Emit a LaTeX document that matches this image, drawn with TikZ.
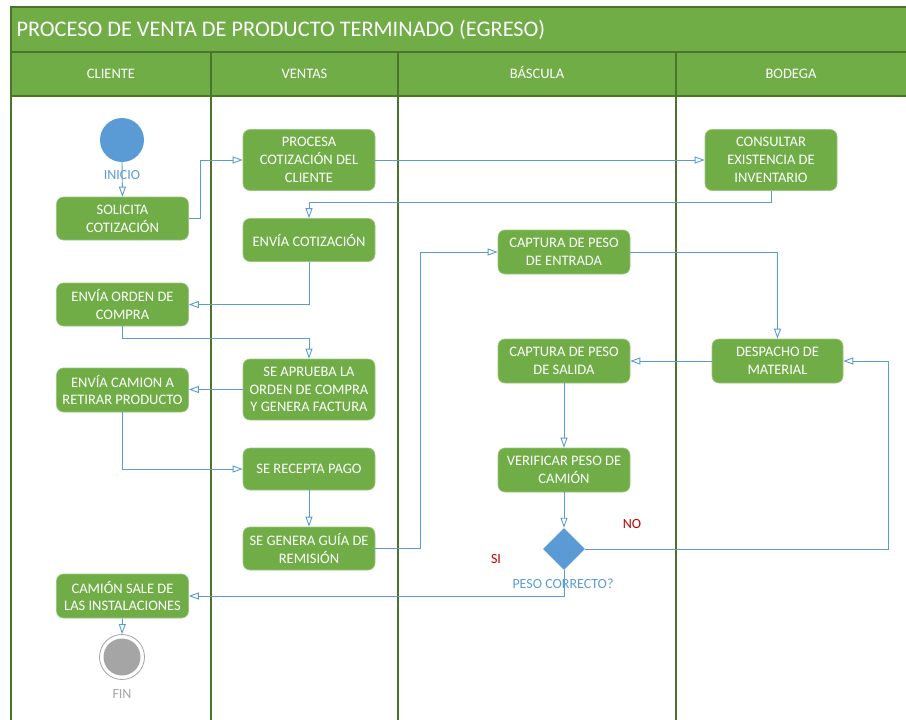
\documentclass[tikz,border=0pt]{standalone}
\usepackage{fontspec}
\setmainfont{Carlito}
\usetikzlibrary{arrows.meta,shapes.geometric}

\definecolor{verde}{HTML}{70AD47}
\definecolor{verdeosc}{HTML}{4A7429}
\definecolor{azul}{HTML}{5B9BD5}
\definecolor{gris}{HTML}{A5A5A5}
\definecolor{rojo}{HTML}{C00000}

\tikzset{
  tarea/.style={rectangle, rounded corners=7pt, fill=verde, draw=verde!70!white, line width=0.6pt,
    text=white, align=center, minimum width=132pt, inner sep=2pt,
    font=\fontsize{14.5}{17.7}\selectfont},
  flujo/.style={draw=azul, line width=0.9pt, -{Triangle[open, length=10pt, width=7pt]}},
  carril/.style={draw=verdeosc, line width=1.1pt},
  encab/.style={text=white, text height=10pt, text depth=3pt, font=\fontsize{14.5}{17}\selectfont},
  rotulo/.style={font=\fontsize{14}{16}\selectfont}
}

\begin{document}
\begin{tikzpicture}[x=1pt, y=-1pt]
\useasboundingbox (0,0) rectangle (906,720);

\fill[verde] (11,7) rectangle (906,96);
\draw[carril] (906,7) -- (11,7) -- (11,720);
\draw[carril] (11,52) -- (906,52);
\draw[carril] (11,96) -- (906,96);
\draw[carril] (211,52) -- (211,720);
\draw[carril] (398,52) -- (398,720);
\draw[carril] (676,52) -- (676,720);

\node[text=white, anchor=west, font=\fontsize{22.3}{25}\selectfont] (titulo) at (13,30) {PROCESO DE VENTA DE PRODUCTO TERMINADO (EGRESO)};
\node[encab] (hcli) at (111,75) {CLIENTE};
\node[encab] (hven) at (304.5,75) {VENTAS};
\node[encab] (hbas) at (537,75) {BÁSCULA};
\node[encab] (hbod) at (791,75) {BODEGA};

\node[circle, fill=azul, minimum size=44pt, inner sep=0pt] (inicio) at (122,140) {};
\node[rotulo, text=azul] (linicio) at (122,175) {INICIO};
\node[tarea, minimum height=43pt] (solic) at (122.5,218.5) {SOLICITA\\COTIZACIÓN};
\node[tarea, minimum height=43pt] (orden) at (122.5,304.5) {ENVÍA ORDEN DE\\COMPRA};
\node[tarea, minimum height=44pt] (camion) at (122.5,390) {ENVÍA CAMION A\\RETIRAR PRODUCTO};
\node[tarea, minimum height=44pt] (sale) at (122.5,596) {CAMIÓN SALE DE\\LAS INSTALACIONES};
\node[circle, draw=gris, fill=white, line width=0.8pt, minimum size=45pt, inner sep=0pt] (fin) at (122,657) {};
\fill[gris] (fin.center) circle (18.5pt);
\node[rotulo, text=gris] (lfin) at (122,694) {FIN};

\node[tarea, minimum height=61pt] (proc) at (309,160) {PROCESA\\COTIZACIÓN DEL\\CLIENTE};
\node[tarea, minimum height=43pt] (envcot) at (309,240) {ENVÍA COTIZACIÓN};
\node[tarea, minimum height=61pt] (aprueba) at (309,389.5) {SE APRUEBA LA\\ORDEN DE COMPRA\\Y GENERA FACTURA};
\node[tarea, minimum height=42pt] (recepta) at (309,469) {SE RECEPTA PAGO};
\node[tarea, minimum height=43pt] (guia) at (309,548.5) {SE GENERA GUÍA DE\\REMISIÓN};

\node[tarea, minimum height=44pt] (entrada) at (564,252) {CAPTURA DE PESO\\DE ENTRADA};
\node[tarea, minimum height=44pt] (salida) at (564,361) {CAPTURA DE PESO\\DE SALIDA};
\node[tarea, minimum height=44pt] (verif) at (564,470) {VERIFICAR PESO DE\\CAMIÓN};
\node[diamond, fill=azul, minimum width=42pt, minimum height=42pt, inner sep=0pt] (dec) at (564,549) {};
\node[rotulo, text=azul] (ldec) at (563,584) {PESO CORRECTO?};
\node[rotulo, text=rojo] (lno) at (632,524) {NO};
\node[rotulo, text=rojo] (lsi) at (496,559) {SI};

\node[tarea, minimum height=61pt] (consult) at (771,160) {CONSULTAR\\EXISTENCIA DE\\INVENTARIO};
\node[tarea, minimum height=44pt, minimum width=131pt] (despacho) at (777.5,361) {DESPACHO DE\\MATERIAL};
\coordinate (vuelta) at (888,549);

\draw[flujo] (inicio.south) -- (solic.north);
\draw[flujo] (solic.east) -- ++(12,0) |- (proc.west);
\draw[flujo] (proc.east) -- (consult.west);
\draw[flujo] (consult.south) -- ++(0,12) -| (envcot.north);
\draw[flujo] (envcot.south) |- (orden.east);
\draw[flujo] (orden.south) -- ++(0,12) -| (aprueba.north);
\draw[flujo] (aprueba.west) -- (aprueba.west -| camion.east);
\draw[flujo] (camion.south) |- (recepta.west);
\draw[flujo] (recepta.south) -- (guia.north);
\draw[flujo] (guia.east) -- ++(45,0) |- (entrada.west);
\draw[flujo] (entrada.east) -| (despacho.north);
\draw[flujo] (despacho.west) -- (salida.east);
\draw[flujo] (salida.south) -- (verif.north);
\draw[flujo] (verif.south) -- (dec.north);
\draw[flujo] (dec.east) -- (vuelta) |- (despacho.east);
\draw[flujo] (dec.south) |- (sale.east);
\draw[flujo] (sale.south) -- (fin.north);

\end{tikzpicture}
\end{document}
